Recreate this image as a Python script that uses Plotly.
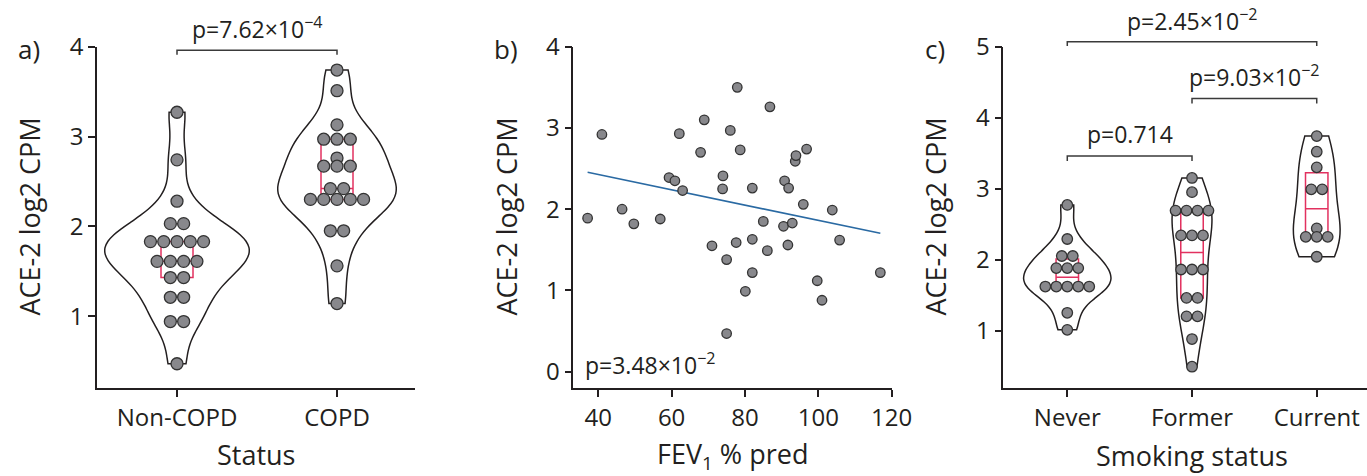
import numpy as np
import plotly.graph_objects as go
from collections import Counter

W, H = 1367, 476

# ---------------- data ----------------
# Panel a: ACE-2 by COPD status
status_cats = ["Non-COPD", "COPD"]
non_copd = [3.27, 2.74, 2.28, 2.03, 2.03, 1.83, 1.83, 1.83, 1.83, 1.83,
            1.61, 1.61, 1.61, 1.61, 1.43, 1.43, 1.21, 1.21, 0.94, 0.94, 0.47]
copd = [3.74, 3.51, 3.13, 2.97, 2.97, 2.97, 2.76, 2.67, 2.67, 2.67,
        2.42, 2.42, 2.30, 2.30, 2.30, 2.30, 2.30, 1.95, 1.95, 1.56, 1.14]
p_status = "p=7.62×10<sup>−4</sup>"

# Panel b: ACE-2 vs FEV1 % pred
fev1 = [37.1, 41.0, 46.5, 49.7, 56.9, 59.3, 60.9, 62.1, 63.0, 67.9, 68.9,
        71.0, 74.0, 73.9, 75.0, 75.0, 76.0, 77.6, 77.9, 78.7, 80.1, 82.0,
        82.0, 82.0, 85.0, 86.1, 86.8, 90.5, 90.8, 91.7, 91.9, 92.9, 93.7,
        93.9, 96.8, 95.9, 99.7, 101.0, 103.8, 105.8, 116.9]
ace2_fev = [1.89, 2.92, 2.00, 1.82, 1.88, 2.39, 2.35, 2.93, 2.23, 2.70, 3.10,
            1.55, 2.41, 2.25, 1.38, 0.47, 2.97, 1.59, 3.50, 2.73, 0.99, 1.63,
            2.26, 1.22, 1.85, 1.49, 3.26, 1.79, 2.35, 1.56, 2.26, 1.83, 2.59,
            2.66, 2.74, 2.06, 1.12, 0.88, 1.99, 1.62, 1.22]
p_fev = "p=3.48×10<sup>−2</sup>"

# Panel c: ACE-2 by smoking status
smoke_cats = ["Never", "Former", "Current"]
never = [2.77, 2.29, 2.05, 2.05, 1.88, 1.88, 1.88, 1.62, 1.62, 1.62, 1.62,
         1.62, 1.25, 1.01]
former = [3.15, 2.95, 2.69, 2.69, 2.69, 2.69, 2.34, 2.34, 2.34, 1.86, 1.86,
          1.86, 1.46, 1.46, 1.20, 1.20, 0.88, 0.49]
current = [3.74, 3.52, 3.30, 2.99, 2.99, 2.44, 2.32, 2.32, 2.32, 2.04]
p_never_former = "p=0.714"
p_former_current = "p=9.03×10<sup>−2</sup>"
p_never_current = "p=2.45×10<sup>−2</sup>"

# ---------------- style ----------------
INK = "#231f20"
DOT = "#88888c"
DOT_EDGE = "#333333"
RED = "#e2315f"
BLUE = "#2a6aa3"
FONT = "Open Sans"

# subplot geometry (pixels)
PLOT_TOP, PLOT_BOT = 46.7, 388.0
geo = {
    "a": dict(x0=97.0, x1=415.0, xr=[-0.5, 1.4875], yr=[0.2, 4.0]),
    "b": dict(x0=573.3, x1=891.7, xr=[33.2, 120.0], yr=[-0.2, 4.0]),
    "c": dict(x0=1003.3, x1=1367.0, xr=[-0.513, 2.403], yr=[0.19, 5.0]),
}


def to_px(panel, xv, yv):
    g = geo[panel]
    px = g["x0"] + (xv - g["xr"][0]) / (g["xr"][1] - g["xr"][0]) * (g["x1"] - g["x0"])
    py = PLOT_BOT - (yv - g["yr"][0]) / (g["yr"][1] - g["yr"][0]) * (PLOT_BOT - PLOT_TOP)
    return px, py


def fx(px):
    return px / W


def fy(py):
    return 1 - py / H


def swarm(values, center, spacing):
    xs, ys = [], []
    for v, k in Counter(values).items():
        for j in range(k):
            xs.append(center + (j - (k - 1) / 2) * spacing)
            ys.append(v)
    return xs, ys


fig = go.Figure()

# (panel, x axis, y axis, groups, violin widths, kde bandwidths, box width, dot spacing, dot size)
panels = [
    ("a", "x", "y", [non_copd, copd], [0.90, 0.74], [None, 0.23],
     0.20, 0.083, 12),
    ("c", "x3", "y3", [never, former, current], [0.70, 0.32, 0.375],
     [None, 0.35, None], 0.18, 0.088, 10.5),
]

for panel, xa, ya, groups, vwidths, bws, bwidth, spacing, msize in panels:
    for i, vals in enumerate(groups):
        kw = {} if bws[i] is None else dict(bandwidth=bws[i])
        fig.add_trace(go.Violin(
            x0=i, y=vals, xaxis=xa, yaxis=ya, width=vwidths[i],
            scalemode="width", spanmode="hard",
            points=False, line=dict(color=INK, width=1.5),
            fillcolor="rgba(255,255,255,0)", box_visible=False,
            meanline_visible=False, hoverinfo="skip", showlegend=False, **kw))
    for i, vals in enumerate(groups):
        q1, med, q3 = np.percentile(vals, [25, 50, 75])
        fig.add_trace(go.Box(
            x=[i], q1=[q1], median=[med], q3=[q3], lowerfence=[q1],
            upperfence=[q3], width=bwidth, xaxis=xa, yaxis=ya,
            line=dict(color=RED, width=1.5), fillcolor="rgba(0,0,0,0)",
            whiskerwidth=0, boxpoints=False, hoverinfo="skip",
            showlegend=False))
    for i, vals in enumerate(groups):
        sx, sy = swarm(vals, i, spacing)
        fig.add_trace(go.Scatter(
            x=sx, y=sy, mode="markers", xaxis=xa, yaxis=ya,
            marker=dict(size=msize, color=DOT,
                        line=dict(color=DOT_EDGE, width=1.3)),
            cliponaxis=False, hoverinfo="skip", showlegend=False))

# panel b scatter + regression
slope, intercept = np.polyfit(fev1, ace2_fev, 1)
xl = np.array([min(fev1), max(fev1)])
fig.add_trace(go.Scatter(
    x=xl, y=slope * xl + intercept, mode="lines", xaxis="x2", yaxis="y2",
    line=dict(color=BLUE, width=1.6), hoverinfo="skip", showlegend=False))
fig.add_trace(go.Scatter(
    x=fev1, y=ace2_fev, mode="markers", xaxis="x2", yaxis="y2",
    marker=dict(size=9.5, color=DOT, line=dict(color=DOT_EDGE, width=1.3)),
    cliponaxis=False, hoverinfo="skip", showlegend=False))

axis_common = dict(showline=True, linecolor=INK, linewidth=1.6,
                   ticks="outside", ticklen=7, tickwidth=1.6, tickcolor=INK,
                   showgrid=False, zeroline=False, automargin=False,
                   tickfont=dict(family=FONT, size=24, color=INK))
ydom = [fy(PLOT_BOT), fy(PLOT_TOP)]

fig.update_layout(
    width=W, height=H, margin=dict(l=0, r=0, t=0, b=0),
    paper_bgcolor="white", plot_bgcolor="white",
    violinmode="overlay", boxmode="overlay", showlegend=False,
    font=dict(family=FONT, color=INK),
    xaxis=dict(axis_common, domain=[fx(geo["a"]["x0"]), fx(geo["a"]["x1"])],
               range=geo["a"]["xr"], tickvals=[0, 1], ticktext=status_cats,
               anchor="y"),
    yaxis=dict(axis_common, domain=ydom, range=geo["a"]["yr"],
               tickvals=[1, 2, 3, 4], anchor="x"),
    xaxis2=dict(axis_common, domain=[fx(geo["b"]["x0"]), fx(geo["b"]["x1"])],
                range=geo["b"]["xr"], tickvals=[40, 60, 80, 100, 120],
                anchor="y2"),
    yaxis2=dict(axis_common, domain=ydom, range=geo["b"]["yr"],
                tickvals=[0, 1, 2, 3, 4], anchor="x2"),
    xaxis3=dict(axis_common, domain=[fx(geo["c"]["x0"]), 1.0],
                range=geo["c"]["xr"], tickvals=[0, 1, 2], ticktext=smoke_cats,
                anchor="y3"),
    yaxis3=dict(axis_common, domain=ydom, range=geo["c"]["yr"],
                tickvals=[1, 2, 3, 4, 5], anchor="x3"),
)

annotations = []
shapes = []


def text(x, y, s, size, **kw):
    d = dict(x=fx(x), y=fy(y), xref="paper", yref="paper", text=s,
             showarrow=False, font=dict(family=FONT, size=size, color=INK),
             xanchor="center", yanchor="middle")
    d.update(kw)
    annotations.append(d)


# panel letters
text(29, 49, "a)", 26)
text(506, 49, "b)", 26)
text(935, 49, "c)", 26)

# axis titles
text(256, 454, "Status", 27)
text(732, 455, "FEV<sub>1</sub> % pred", 27)
text(1192, 455, "Smoking status", 27)
for xc in (29, 506, 935):
    text(xc, 216.5, "ACE-2 log2 CPM", 27, textangle=-90)

# significance brackets
brackets = [
    ("a", 0, 1, 3.96, 3.91, p_status),
    ("c", 0, 2, 5.07, 5.01, p_never_current),
    ("c", 1, 2, 4.27, 4.20, p_former_current),
    ("c", 0, 1, 3.46, 3.39, p_never_former),
]
for panel, c1, c2, ytop, yend, lab in brackets:
    xa_, ya_ = to_px(panel, c1, ytop)
    xb_, _ = to_px(panel, c2, ytop)
    _, ye_ = to_px(panel, c1, yend)
    shapes.append(dict(
        type="path", xref="paper", yref="paper",
        path=f"M {fx(xa_)},{fy(ye_)} L {fx(xa_)},{fy(ya_)} L {fx(xb_)},{fy(ya_)} L {fx(xb_)},{fy(ye_)}",
        line=dict(color="#3a3a3a", width=1.5)))
    text((xa_ + xb_) / 2, ya_ - 22, lab, 23)

# panel b p-value
text(583, 364, p_fev, 23, xanchor="left")

fig.update_layout(annotations=annotations, shapes=shapes)
fig.write_html("out.html")
